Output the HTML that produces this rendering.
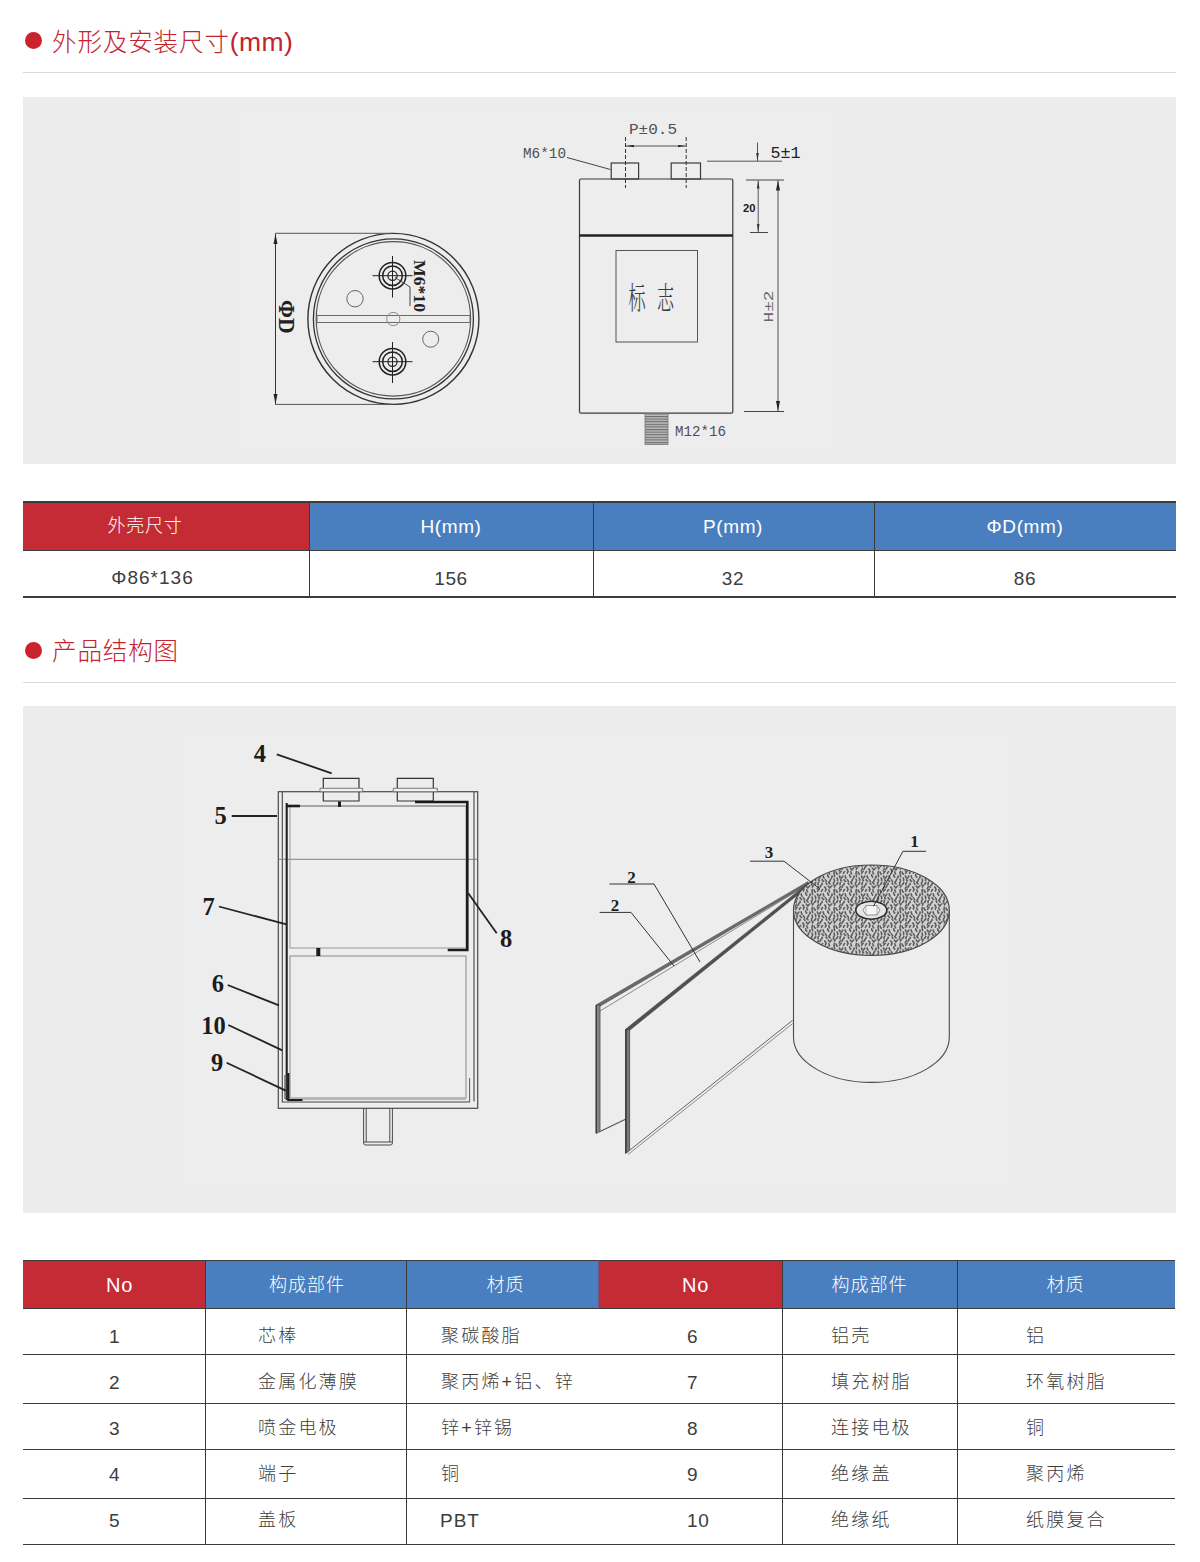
<!DOCTYPE html>
<html lang="zh-CN">
<head>
<meta charset="utf-8">
<title>外形及安装尺寸</title>
<style>
*{margin:0;padding:0;box-sizing:border-box}
html,body{width:1200px;height:1562px;background:#fff;overflow:hidden}
body{position:relative;font-family:"Liberation Sans","Noto Sans CJK SC",sans-serif;color:#333;font-weight:300}
.abs{position:absolute}
.title{position:absolute;left:52px;height:30px;line-height:30px;font-size:24.5px;color:#c4222d;white-space:nowrap;letter-spacing:.9px}
.dot{position:absolute;left:24.5px;width:17px;height:17px;border-radius:50%;background:#c9242e}
.hr{position:absolute;left:23px;width:1153px;height:1px;background:#dadada}
.panel{position:absolute;left:23px;width:1153px;background:#ececec}
.hl{position:absolute;height:1.4px;background:#3c3c3c}
.vl{position:absolute;width:1.4px;background:#3a3a3a}
.red{position:absolute;background:#c52b35}
.blue{position:absolute;background:#4a7fbf}
.t{position:absolute;white-space:nowrap;font-size:18px;line-height:24px;height:24px;color:#3d3d3d}
.c{transform:translateX(-50%)}
.w{color:#fff}
.ls1{letter-spacing:1px}
.ls2{letter-spacing:2.2px}
.n{font-size:19px;letter-spacing:.6px}
svg{position:absolute;overflow:visible}
</style>
</head>
<body>
<!-- section 1 title -->
<div class="dot" style="top:32.3px"></div>
<div class="title" style="top:27.2px">外形及安装尺寸<span style="font-size:26.5px;letter-spacing:.4px">(mm)</span></div>
<div class="hr" style="top:72px"></div>
<div class="panel" style="top:97px;height:367px"></div>
<svg width="1200" height="480" viewBox="0 0 1200 480" style="left:0;top:0">
<defs>
<marker id="ar" viewBox="0 0 12 6" refX="12" refY="3" markerWidth="14" markerHeight="5" orient="auto-start-reverse" markerUnits="userSpaceOnUse"><path d="M0,0.6 L12,3 L0,5.4 Z" fill="#222"/></marker>
<marker id="as" viewBox="0 0 8 3" refX="8" refY="1.5" markerWidth="8" markerHeight="3" orient="auto-start-reverse" markerUnits="userSpaceOnUse"><path d="M0,0.2 L8,1.5 L0,2.8 Z" fill="#333"/></marker>
<pattern id="thr" width="4" height="2.6" patternUnits="userSpaceOnUse"><rect width="4" height="2.6" fill="#bdbdbd"/><rect y="0" width="4" height="1.1" fill="#6b6b6b"/></pattern>
</defs>
<rect x="236" y="108" width="596" height="342" fill="#ededed"/>
<!-- top view -->
<g fill="none" stroke="#3a3a3a" stroke-width="1.2">
<circle cx="393.4" cy="318.9" r="85.5" stroke="#333" stroke-width="1.4"/>
<circle cx="393.4" cy="318.9" r="80" stroke="#333" stroke-width="1.3"/>
<circle cx="393.4" cy="318.9" r="77.2" stroke="#555"/>
<path d="M275,233.3 H393 M275,404.4 H393" stroke="#555" stroke-width="1"/>
<path d="M275.5,234 V404" stroke="#333" stroke-width="1" marker-start="url(#ar)" marker-end="url(#ar)"/>
<rect x="317" y="315.5" width="153" height="7" stroke="#6a6a6a" stroke-width="1"/>
<circle cx="393.3" cy="319" r="6.6" stroke="#8a8a8a" stroke-width="1"/>
<circle cx="355" cy="298.7" r="8.2" stroke="#666" stroke-width="1"/>
<circle cx="430.7" cy="339.2" r="8" stroke="#666" stroke-width="1"/>
</g>
<g fill="none" stroke="#222" stroke-width="1.5">
<circle cx="392.5" cy="275.7" r="13.3"/><circle cx="392.5" cy="275.7" r="9.8"/><circle cx="392.5" cy="275.7" r="4.6" stroke-width="1.2"/>
<path d="M372.5,275.7 H412.5 M392.5,256 V297.5" stroke-width="1"/>
<circle cx="392.5" cy="361.7" r="13.3"/><circle cx="392.5" cy="361.7" r="9.8"/><circle cx="392.5" cy="361.7" r="4.6" stroke-width="1.2"/>
<path d="M372.5,361.7 H412.5 M392.5,342 V383" stroke-width="1"/>
<path d="M395,277.5 L407,285 L410,287 V306" stroke="#444" stroke-width="1"/>
</g>
<text transform="translate(413.6,260) rotate(90)" font-family="'Liberation Serif',serif" font-weight="bold" font-size="17.5" fill="#222" textLength="52" lengthAdjust="spacingAndGlyphs">M6*10</text>
<text transform="translate(279.3,300) rotate(90)" font-family="'Liberation Serif',serif" font-weight="bold" font-size="22.5" fill="#222" textLength="33.5" lengthAdjust="spacingAndGlyphs">ΦD</text>
<!-- side view -->
<g fill="none" stroke="#3a3a3a" stroke-width="1.2">
<rect x="579.5" y="179" width="153.3" height="234.2" rx="1.5"/>
<path d="M579.5,235.5 H732.8" stroke="#222" stroke-width="2.4"/>
<rect x="616" y="250.5" width="81.5" height="91.5" stroke="#555" stroke-width="1"/>
<rect x="611.2" y="163" width="27.4" height="16"/>
<rect x="671.2" y="163" width="29.3" height="16"/>
<path d="M625.5,137 V188 M686.2,137 V188" stroke="#333" stroke-width="1" stroke-dasharray="4 2"/>
<path d="M626,146 H685.7" stroke="#444" stroke-width="0.9" marker-start="url(#as)" marker-end="url(#as)"/>
<path d="M567,157.5 L610.5,169.5" stroke="#444" stroke-width="1"/>
<path d="M707,161.2 H782" stroke="#555" stroke-width="1"/>
<path d="M757.5,142.5 V161" stroke="#444" stroke-width="0.9" marker-end="url(#as)"/>
<path d="M746,180 H784 M744,411.5 H784 M750,232.5 H768" stroke="#444" stroke-width="1"/>
<path d="M758.2,180.5 V232" stroke="#444" stroke-width="0.9" marker-start="url(#as)" marker-end="url(#as)"/>
<path d="M778,180.5 V411" stroke="#444" stroke-width="0.9" marker-start="url(#ar)" marker-end="url(#ar)"/>
</g>
<rect x="645" y="413.5" width="23" height="31" fill="url(#thr)" stroke="#777" stroke-width="0.8"/>
<g font-family="'Liberation Mono',monospace" fill="#505050">
<text x="629" y="134" font-size="14" textLength="48" lengthAdjust="spacingAndGlyphs">P±0.5</text>
<text x="523" y="157.5" font-size="14" textLength="43" lengthAdjust="spacingAndGlyphs">M6*10</text>
<text x="770.5" y="157.5" font-size="17" textLength="30" lengthAdjust="spacingAndGlyphs" fill="#222">5±1</text>
<text x="675" y="435.5" font-size="14" textLength="51" lengthAdjust="spacingAndGlyphs">M12*16</text>
<text transform="translate(772.5,322.5) rotate(-90)" font-size="12" textLength="32" lengthAdjust="spacingAndGlyphs" fill="#666">H±2</text>
</g>
<text x="743" y="211.5" font-family="'Liberation Sans',sans-serif" font-weight="bold" font-size="10.5" fill="#222" textLength="12.5" lengthAdjust="spacingAndGlyphs">20</text>
<g fill="#3c3c3c" font-family="'Liberation Serif','Noto Serif CJK SC',serif" font-size="30.6">
<text transform="translate(628.6,308.6) scale(0.559,1)">标</text>
<text transform="translate(657,308.6) scale(0.559,1)">志</text>
</g>
</svg>

<!-- table 1 -->
<div class="red" style="left:23px;top:502px;width:286px;height:49px"></div>
<div class="blue" style="left:309px;top:502px;width:867px;height:49px"></div>
<div class="hl" style="left:23px;top:501.4px;width:1153px;height:1.2px"></div>
<div class="hl" style="left:23px;top:550px;width:1153px"></div>
<div class="hl" style="left:23px;top:596.2px;width:1153px"></div>
<div class="vl" style="left:308.5px;top:501px;height:96px"></div>
<div class="vl" style="left:592.5px;top:501px;height:96px"></div>
<div class="vl" style="left:874px;top:501px;height:96px"></div>
<div class="t c w" style="left:145px;top:513.5px;letter-spacing:.8px">外壳尺寸</div>
<div class="t c w n" style="left:451px;top:515px">H(mm)</div>
<div class="t c w n" style="left:733px;top:515px">P(mm)</div>
<div class="t c w n" style="left:1025px;top:515px">ΦD(mm)</div>
<div class="t c n" style="left:152.5px;top:565.5px;letter-spacing:1px">Φ86*136</div>
<div class="t c n" style="left:451px;top:566.5px">156</div>
<div class="t c n" style="left:733px;top:566.5px">32</div>
<div class="t c n" style="left:1025px;top:566.5px">86</div>

<!-- section 2 title -->
<div class="dot" style="top:641.7px"></div>
<div class="title" style="top:637px">产品结构图</div>
<div class="hr" style="top:682px"></div>
<div class="panel" style="top:706px;height:507px"></div>
<svg width="1200" height="520" viewBox="0 700 1200 520" style="left:0;top:700px">
<defs>
<pattern id="tex" width="22" height="18" patternUnits="userSpaceOnUse">
<rect x="-1" y="-1" width="24" height="20" fill="#d2d2d2"/>
<path d="M1.7,0.7Q1.1,1.6 0.5,2.4 M1.7,18.7Q1.1,19.6 0.5,20.4 M23.7,0.7Q23.1,1.6 22.5,2.4 M23.7,18.7Q23.1,19.6 22.5,20.4 M4.6,0.3Q3.7,1.4 4.1,2.8 M4.6,18.3Q3.7,19.4 4.1,20.8 M8.1,1.3Q8.6,2.3 7.7,2.7 M8.1,19.3Q8.6,20.3 7.7,20.7 M12.1,1.1Q12.5,1.4 12.8,2.3 M12.1,19.1Q12.5,19.4 12.8,20.3 M14.7,0.3Q15.3,1.3 16.0,1.9 M14.7,18.3Q15.3,19.3 16.0,19.9 M19.6,0.6Q19.5,1.6 19.6,2.9 M19.6,18.6Q19.5,19.6 19.6,20.9 M-2.4,0.6Q-2.5,1.6 -2.4,2.9 M-2.4,18.6Q-2.5,19.6 -2.4,20.9 M4.4,4.8Q3.5,5.7 3.3,7.0 M6.7,3.5Q6.9,4.3 6.0,5.3 M10.6,5.0Q11.8,5.6 11.6,6.3 M14.2,4.0Q15.2,4.8 15.4,5.9 M17.8,3.9Q16.4,4.7 16.3,5.8 M21.1,3.6Q20.8,4.4 20.4,5.1 M-0.9,3.6Q-1.2,4.4 -1.6,5.1 M0.1,8.1Q0.1,9.0 1.3,10.1 M22.1,8.1Q22.1,9.0 23.3,10.1 M5.2,7.3Q4.1,8.6 3.6,9.3 M8.6,7.5Q7.4,8.8 7.5,9.5 M12.1,7.4Q11.4,8.1 11.4,9.2 M14.8,7.8Q15.0,8.8 15.6,9.9 M20.4,7.4Q19.8,8.5 20.1,10.0 M-1.6,7.4Q-2.2,8.5 -1.9,10.0 M3.4,12.0Q4.1,13.1 4.0,13.6 M6.8,12.1Q6.1,12.8 5.6,14.0 M9.2,11.9Q9.2,13.2 10.1,14.2 M13.7,10.9Q13.5,11.8 14.7,13.1 M17.9,12.0Q18.5,12.7 17.7,13.7 M20.5,11.2Q20.1,11.9 20.6,12.7 M-1.5,11.2Q-1.9,11.9 -1.4,12.7 M1.1,14.0Q2.1,15.4 1.6,16.6 M1.1,-4.0Q2.1,-2.6 1.6,-1.4 M23.1,14.0Q24.1,15.4 23.6,16.6 M23.1,-4.0Q24.1,-2.6 23.6,-1.4 M4.8,15.4Q4.4,16.3 5.5,16.7 M4.8,-2.6Q4.4,-1.7 5.5,-1.3 M8.1,15.7Q8.8,16.8 9.6,17.5 M8.1,-2.3Q8.8,-1.2 9.6,-0.5 M11.3,15.8Q12.3,16.9 12.5,17.6 M11.3,-2.2Q12.3,-1.1 12.5,-0.4 M16.8,15.0Q16.0,16.3 15.7,17.5 M16.8,-3.0Q16.0,-1.7 15.7,-0.5 M20.0,15.2Q20.8,16.5 20.3,17.7 M20.0,-2.8Q20.8,-1.5 20.3,-0.3 M-2.0,15.2Q-1.2,16.5 -1.7,17.7 M-2.0,-2.8Q-1.2,-1.5 -1.7,-0.3" stroke="#5c5c5c" stroke-width="1.6" stroke-linecap="round" fill="none"/>
</pattern>
</defs>
<rect x="180" y="735" width="830" height="450" fill="#ededed"/>
<!-- cross-section -->
<g fill="none" stroke="#555" stroke-width="1">
<rect x="278.3" y="791.7" width="199.4" height="316.6" stroke="#4a4a4a" stroke-width="1.2"/>
<path d="M282.3,792 V1102 H470 M474,792 V1101.5" stroke="#444" stroke-width="1.1"/>
<path d="M278.3,859.3 H477.7" stroke="#777" stroke-width="0.9"/>
<path d="M286.7,803 V1100" stroke="#222" stroke-width="2.1"/>
<path d="M286,806 H466" stroke="#777"/>
<path d="M290,1099.3 H466" stroke="#aaa"/>
<rect x="290" y="806" width="176" height="142" stroke="#999"/>
<rect x="290" y="956" width="176" height="142" stroke="#999" stroke-width="1.2"/>
<path d="M469.6,1078 V1102" stroke="#555"/>
<!-- terminals -->
<path d="M323.3,788.3 V778.3 H359 V788.3 M323.3,791.7 V801 H359 V791.7" stroke="#333" stroke-width="1.2"/>
<path d="M397.3,788.3 V778.3 H433.3 V788.3 M397.3,791.7 V801 H433.3 V791.7" stroke="#333" stroke-width="1.2"/>
<path d="M320,788.3 H362.7 V791.7 H320 Z M393.3,788.3 H437.3 V791.7 H393.3 Z" stroke="#777" fill="#f2f2f2"/>
<!-- bolt -->
<path d="M363.6,1108.3 V1143 Q363.6,1145 365.6,1145 H390.4 Q392.4,1145 392.4,1143 V1108.3 M366.2,1108.3 V1142 M389.8,1108.3 V1142 M364,1142 H392" stroke="#4a4a4a"/>
</g>
<g fill="none" stroke="#1c1c1c" stroke-width="2.6">
<path d="M415,802 H467.3 V950 H447.7"/>
<path d="M286,806 H300"/>
<path d="M339.5,801.5 V807" stroke-width="3"/>
<path d="M318.3,948 V956" stroke-width="4"/>
<path d="M288.3,1073 V1100 H302.5" stroke-width="2.2"/>
<path d="M285.2,1075 V1099" stroke="#777" stroke-width="2"/>
</g>
<!-- leaders -->
<g fill="none" stroke="#232323" stroke-width="1.8">
<path d="M276.7,754.3 L331.7,773.3"/>
<path d="M231.7,816 H277"/>
<path d="M218.9,906.5 L286.5,924.4"/>
<path d="M468.3,893.3 L496.7,933.3"/>
<path d="M227.7,985 L279,1005.4"/>
<path d="M228.3,1025 L282.3,1050.4"/>
<path d="M226.6,1062.8 L285.8,1090.6"/>
</g>
<g font-family="'Liberation Serif',serif" font-weight="bold" font-size="24.5" fill="#1c1c1c" text-anchor="middle">
<text x="259.8" y="761.8">4</text>
<text x="220.7" y="824.2">5</text>
<text x="208.7" y="914.5">7</text>
<text x="506" y="946.5">8</text>
<text x="217.8" y="991.5">6</text>
<text x="213.6" y="1034.2">10</text>
<text x="217" y="1070.8">9</text>
</g>
<!-- roll -->
<g stroke-linejoin="round">
<!-- back sheet -->
<path d="M600,1011 L808,884.5" stroke="#8a8a8a" stroke-width="1" fill="none"/>
<path d="M596.4,1004.8 L808,881.6 L808.6,884 L597,1008 Z" fill="#6a6a6a" stroke="#555" stroke-width="0.6"/>
<path d="M596,1005 H600 V1131.5 L596,1133.5 Z" fill="#868686" stroke="#4a4a4a" stroke-width="0.8"/>
<path d="M596.3,1005 V1133" stroke="#3c3c3c" stroke-width="1.2" fill="none"/>
<path d="M600,1131.5 L626,1119" stroke="#555" stroke-width="1.1" fill="none"/>
<!-- front sheet -->
<path d="M625.8,1029 L808,883.2 L809,885.8 L627,1032.4 Z" fill="#505050" stroke="#4a4a4a" stroke-width="0.6"/>
<path d="M625.6,1029.5 H629.6 V1150.5 L625.6,1153.5 Z" fill="#7a7a7a" stroke="#444" stroke-width="0.8"/>
<path d="M626,1029.5 V1153" stroke="#333" stroke-width="1.3" fill="none"/>
<path d="M629.6,1150.3 L792.6,1020.3" stroke="#666" stroke-width="1" fill="none"/>
<path d="M628,1154.5 L792.6,1023.6" stroke="#8a8a8a" stroke-width="1" fill="none"/>
<!-- cylinder -->
<path d="M793.5,910.4 V1037 A77.9,45.4 0 0 0 949.3,1037 V910.4" stroke="#4a4a4a" stroke-width="1.1" fill="none"/>
</g>
<ellipse cx="871.4" cy="910.2" rx="77.9" ry="45.2" fill="url(#tex)" stroke="#4a4a4a" stroke-width="1.2"/>
<ellipse cx="871.3" cy="910.2" rx="15.5" ry="9" fill="#e6e6e6" stroke="#2e2e2e" stroke-width="1.6"/>
<path d="M863,910.2 L866,905.5 H877 L880,910.2 L877,915 H866 Z" fill="#f6f6f6" stroke="#777" stroke-width="0.8"/>
<path d="M866,905.5 V915 M877,905.5 V915" stroke="#999" stroke-width="0.7" fill="none"/>
<g fill="none" stroke="#333" stroke-width="1">
<path d="M926,851.3 H902.9 L873.5,906.3"/>
<path d="M750,861.2 H784 L820,889"/>
<path d="M609.4,884 H654 L700,962"/>
<path d="M599.6,912.4 H631 L674,966"/>
</g>
<g font-family="'Liberation Serif',serif" font-weight="bold" font-size="17" fill="#1e1e1e" text-anchor="middle">
<text x="914.6" y="846.5">1</text>
<text x="769" y="857.5">3</text>
<text x="631.5" y="882.5">2</text>
<text x="615" y="911">2</text>
</g>
</svg>

<!-- table 2 -->
<div class="red" style="left:23px;top:1260px;width:183px;height:49px"></div>
<div class="blue" style="left:206px;top:1260px;width:392px;height:49px"></div>
<div class="red" style="left:598px;top:1260px;width:185px;height:49px"></div>
<div class="blue" style="left:783px;top:1260px;width:392.3px;height:49px"></div>
<div class="hl" style="left:23px;top:1259.6px;width:1152.3px;height:1.2px"></div>
<div class="hl" style="left:23px;top:1308px;width:1152.3px"></div>
<div class="hl" style="left:23px;top:1354px;width:1152.3px"></div>
<div class="hl" style="left:23px;top:1402.8px;width:1152.3px"></div>
<div class="hl" style="left:23px;top:1448.7px;width:1152.3px"></div>
<div class="hl" style="left:23px;top:1497.6px;width:1152.3px"></div>
<div class="hl" style="left:23px;top:1543.6px;width:1152.3px"></div>
<div class="vl" style="left:205px;top:1260px;height:284.5px"></div>
<div class="vl" style="left:406px;top:1260px;height:284.5px"></div>
<div class="vl" style="left:782px;top:1260px;height:284.5px"></div>
<div class="vl" style="left:956.5px;top:1260px;height:284.5px"></div>
<div class="vl" style="left:597.5px;top:1260px;height:49px;background:#6a5a8a;width:1px"></div>

<div class="t c w n" style="left:119.5px;top:1273px;font-size:20px">No</div>
<div class="t c w ls1" style="left:307px;top:1273px">构成部件</div>
<div class="t c w ls1" style="left:505.5px;top:1273px">材质</div>
<div class="t c w n" style="left:695.5px;top:1273px;font-size:20px">No</div>
<div class="t c w ls1" style="left:869.5px;top:1273px">构成部件</div>
<div class="t c w ls1" style="left:1065.5px;top:1273px">材质</div>

<div class="t n" style="left:109px;top:1325px">1</div>
<div class="t ls2" style="left:258px;top:1324px">芯棒</div>
<div class="t ls2" style="left:441px;top:1324px">聚碳酸脂</div>
<div class="t n" style="left:687px;top:1325px">6</div>
<div class="t ls2" style="left:831px;top:1324px">铝壳</div>
<div class="t ls2" style="left:1026px;top:1324px">铝</div>

<div class="t n" style="left:109px;top:1371px">2</div>
<div class="t ls2" style="left:258px;top:1370px">金属化薄膜</div>
<div class="t ls2" style="left:441px;top:1370px">聚丙烯+铝、锌</div>
<div class="t n" style="left:687px;top:1371px">7</div>
<div class="t ls2" style="left:831px;top:1370px">填充树脂</div>
<div class="t ls2" style="left:1026px;top:1370px">环氧树脂</div>

<div class="t n" style="left:109px;top:1417px">3</div>
<div class="t ls2" style="left:258px;top:1416px">喷金电极</div>
<div class="t ls2" style="left:441px;top:1416px">锌+锌锡</div>
<div class="t n" style="left:687px;top:1417px">8</div>
<div class="t ls2" style="left:831px;top:1416px">连接电极</div>
<div class="t ls2" style="left:1026px;top:1416px">铜</div>

<div class="t n" style="left:109px;top:1463px">4</div>
<div class="t ls2" style="left:258px;top:1462px">端子</div>
<div class="t ls2" style="left:441px;top:1462px">铜</div>
<div class="t n" style="left:687px;top:1463px">9</div>
<div class="t ls2" style="left:831px;top:1462px">绝缘盖</div>
<div class="t ls2" style="left:1026px;top:1462px">聚丙烯</div>

<div class="t n" style="left:109px;top:1509px">5</div>
<div class="t ls2" style="left:258px;top:1508px">盖板</div>
<div class="t n" style="left:440px;top:1509px;letter-spacing:1px">PBT</div>
<div class="t n" style="left:687px;top:1509px">10</div>
<div class="t ls2" style="left:831px;top:1508px">绝缘纸</div>
<div class="t ls2" style="left:1026px;top:1508px">纸膜复合</div>
</body>
</html>
